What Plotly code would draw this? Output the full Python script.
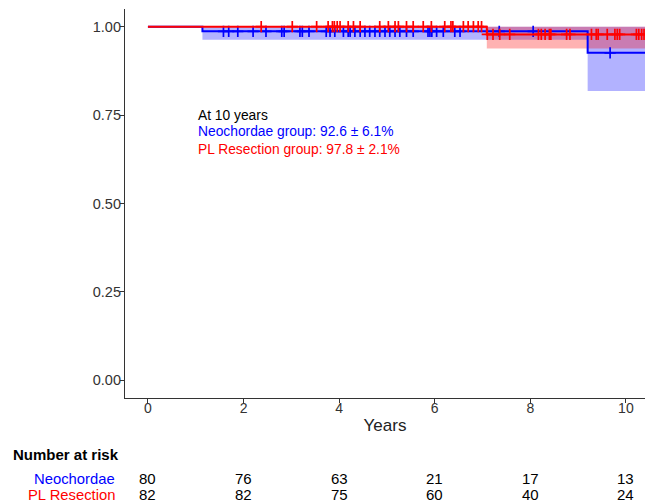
import plotly.graph_objects as go
import bisect

# ---------------- data ----------------
years_ticks = [0, 2, 4, 6, 8, 10]

# Neochordae group (blue): step survival curve with confidence band
neo_time = [0.0, 1.14, 9.20, 10.6]
neo_surv = [1.0, 0.987, 0.926, 0.926]
neo_lower = [1.0, 0.963, 0.818, 0.818]
neo_upper = [1.0, 1.0, 1.0, 1.0]
neo_censor = [1.58, 1.69, 1.88, 2.20, 2.47, 2.80, 2.85, 3.18, 3.23, 3.37, 3.73, 3.81,
              3.91, 4.09, 4.19, 4.23, 4.33, 4.44, 4.54, 4.64, 4.75, 4.85, 4.96, 5.06,
              5.17, 5.27, 5.41, 5.55, 5.86, 5.90, 5.94, 6.04, 6.18, 6.42, 6.53,
              7.35, 8.06, 9.67]

# PL Resection group (red)
pl_time = [0.0, 7.09, 10.6]
pl_surv = [1.0, 0.978, 0.978]
pl_lower = [1.0, 0.938, 0.938]
pl_upper = [1.0, 1.0, 1.0]
pl_censor = [2.37, 3.02, 3.53, 3.77, 3.86, 3.90, 3.96, 4.02, 4.19, 4.30, 4.44, 4.85,
             5.03, 5.17, 5.24, 5.41, 5.55, 5.76, 5.93, 6.21, 6.34, 6.38, 6.60, 6.70,
             6.81, 6.91, 6.98, 7.10, 7.22, 7.36, 7.57, 8.17, 8.23, 8.31, 8.40, 8.43,
             8.76, 8.83, 9.28, 9.38, 9.42, 9.61, 9.77, 9.82, 9.87, 10.22, 10.27,
             10.33, 10.38]

risk_labels = ["Neochordae", "PL Resection"]
risk_neo = [80, 76, 63, 21, 17, 13]
risk_pl = [82, 82, 75, 60, 40, 24]

summary_title = "At 10 years"
summary_neo = "Neochordae group: 92.6 ± 6.1%"
summary_pl = "PL Resection group: 97.8 ± 2.1%"

BLUE = "#0000FF"
RED = "#FF0000"
FONT = "Liberation Sans, Arial, sans-serif"


def step_at(times, vals, t):
    i = bisect.bisect_right(times, t) - 1
    return vals[max(i, 0)]


fig = go.Figure()


def add_band(times, lower, upper, fill):
    fig.add_trace(go.Scatter(x=times, y=lower, mode="lines", line=dict(width=0, shape="hv"),
                             showlegend=False, hoverinfo="skip"))
    fig.add_trace(go.Scatter(x=times, y=upper, mode="lines", line=dict(width=0, shape="hv"),
                             fill="tonexty", fillcolor=fill, showlegend=False, hoverinfo="skip"))


def add_line(times, surv, censor, color):
    fig.add_trace(go.Scatter(x=times, y=surv, mode="lines", line=dict(color=color, width=2, shape="hv"),
                             showlegend=False))
    fig.add_trace(go.Scatter(x=censor, y=[step_at(times, surv, t) for t in censor], mode="markers",
                             marker=dict(symbol="cross-thin", size=8, line=dict(color=color, width=1.7)),
                             showlegend=False))


add_band(neo_time, neo_lower, neo_upper, "rgba(0,0,255,0.3)")
add_band(pl_time, pl_lower, pl_upper, "rgba(255,0,0,0.3)")
add_line(neo_time, neo_surv, neo_censor, BLUE)
add_line(pl_time, pl_surv, pl_censor, RED)

# summary text
for txt, yv, col in [(summary_title, 0.750, "black"), (summary_neo, 0.703, BLUE), (summary_pl, 0.653, RED)]:
    fig.add_annotation(x=1.0, y=yv, xref="x", yref="y", text=txt, showarrow=False,
                       xanchor="left", yanchor="middle", font=dict(family=FONT, size=13.8, color=col))

# number at risk table
fig.add_annotation(x=-0.219, y=-0.1465, xref="paper", yref="paper", text="<b>Number at risk</b>",
                   showarrow=False, xanchor="left", yanchor="middle", font=dict(family=FONT, size=15, color="black"))
row_y = [-0.208, -0.249]
for lab, col, yv in zip(risk_labels, [BLUE, RED], row_y):
    fig.add_annotation(x=-0.0154, y=yv, xref="paper", yref="paper", text=lab, showarrow=False,
                       xanchor="right", yanchor="middle", font=dict(family=FONT, size=14.8, color=col))
for vals, yv in zip([risk_neo, risk_pl], row_y):
    for xv, n in zip(years_ticks, vals):
        fig.add_annotation(x=xv, y=yv, xref="x", yref="paper", text=str(n), showarrow=False,
                           xanchor="center", yanchor="middle", font=dict(family=FONT, size=15, color="black"))

fig.update_layout(
    width=645, height=503,
    margin=dict(l=125, r=0, t=9, b=105),
    plot_bgcolor="white", paper_bgcolor="white",
    font=dict(family=FONT, size=14, color="#333333"),
    showlegend=False,
)
fig.update_xaxes(range=[-0.48, 10.40], tickvals=years_ticks, ticks="outside", ticklen=4, tickwidth=1,
                 tickcolor="#333333", showline=True, linecolor="#333333", linewidth=1.2, showgrid=False,
                 zeroline=False, tickfont=dict(size=14, color="#333333"), ticklabelstandoff=-7,
                 title=dict(text="Years", font=dict(size=17, color="#222222"), standoff=4))
fig.update_yaxes(range=[-0.05, 1.05], tickvals=[0, 0.25, 0.5, 0.75, 1.0], ticktext=["0.00", "0.25", "0.50", "0.75", "1.00"],
                 ticks="outside", ticklen=4, tickwidth=1, tickcolor="#333333", showline=True,
                 linecolor="#333333", linewidth=1.2, showgrid=False, zeroline=False,
                 tickfont=dict(size=14.5, color="#333333"), ticklabelstandoff=-4)

fig.write_html("out.html", config={"displayModeBar": False},
               post_script="document.body.style.margin='0';document.body.style.overflow='hidden';")
